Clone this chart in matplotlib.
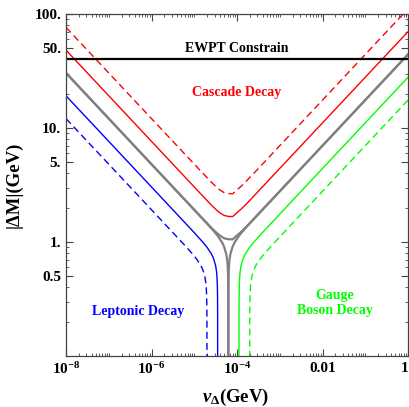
import matplotlib
matplotlib.use("Agg")
import matplotlib.pyplot as plt
from matplotlib.ticker import FixedLocator, NullFormatter

plt.rcParams['font.family'] = ['Liberation Serif', 'DejaVu Serif']
plt.rcParams['font.weight'] = 'bold'
plt.rcParams['axes.labelweight'] = 'bold'
plt.rcParams['mathtext.fontset'] = 'custom'
plt.rcParams['mathtext.rm'] = 'Liberation Serif:bold'
plt.rcParams['mathtext.it'] = 'Liberation Serif:italic:bold'
plt.rcParams['mathtext.bf'] = 'Liberation Serif:bold'

# v_Delta (GeV) and |Delta M| (GeV)
v_top = [1e-8, 1e-6, 1e-5, 1.585e-5, 2.512e-5, 3.162e-5, 3.981e-5, 5.012e-5, 6.31e-5,
         7.943e-5, 1e-4, 1.259e-4, 1.585e-4, 2.512e-4, 3.981e-4, 1e-2, 1.0]
gray_top = [30.4, 4.81, 1.917, 1.595, 1.332, 1.225, 1.137, 1.077, 1.057,
            1.055, 1.141, 1.231, 1.340, 1.604, 1.928, 7.0, 44.2]
red_solid = [48.2, 7.63, 3.04, 2.53, 2.11, 1.94, 1.80, 1.71, 1.675,
             1.672, 1.81, 1.95, 2.12, 2.54, 3.06, 11.09, 70.0]
red_dash = [76.3, 12.09, 4.82, 4.01, 3.35, 3.08, 2.86, 2.71, 2.66,
            2.65, 2.87, 3.09, 3.37, 4.03, 4.84, 17.58, 111.0]

# gray stems
v_gray_l = [1e-8, 1e-6, 1e-5, 1.778e-5, 2.818e-5, 3.548e-5, 4.467e-5, 5.012e-5, 5.623e-5,
            5.888e-5, 6.026e-5, 6.166e-5, 6.237e-5, 6.259e-5, 6.264e-5]
gray_l = [30.4, 4.81, 1.916, 1.521, 1.255, 1.1305, 0.992, 0.905, 0.779,
          0.696, 0.6345, 0.530, 0.4085, 0.2958, 0.1]
v_gray_r = [1.0, 1e-2, 3.925e-4, 2.207e-4, 1.392e-4, 1.106e-4, 8.786e-5, 7.830e-5, 6.978e-5,
            6.665e-5, 6.514e-5, 6.365e-5, 6.293e-5, 6.271e-5, 6.264e-5]
gray_r = [44.2, 7.0, 1.916, 1.521, 1.255, 1.1305, 0.992, 0.905, 0.779,
          0.696, 0.6345, 0.530, 0.4085, 0.2958, 0.1]

# leptonic (blue)
v_blue = [1e-8, 1e-6, 1e-5, 1.585e-5, 1.995e-5, 2.512e-5, 2.818e-5, 3.162e-5, 3.311e-5,
          3.388e-5, 3.467e-5, 3.508e-5, 3.520e-5, 3.523e-5]
blue_solid = [19.16, 3.038, 1.208, 0.997, 0.898, 0.788, 0.719, 0.619, 0.553,
              0.504, 0.421, 0.3245, 0.235, 0.1]
v_blue_d = [1e-8, 1e-6, 5.623e-6, 8.913e-6, 1.122e-5, 1.413e-5, 1.585e-5, 1.778e-5, 1.862e-5,
            1.905e-5, 1.950e-5, 1.972e-5, 1.979e-5, 1.981e-5]
blue_dash = [12.09, 1.917, 0.9595, 0.792, 0.713, 0.626, 0.571, 0.4917, 0.4393,
             0.4003, 0.3344, 0.2578, 0.1867, 0.1]

# gauge boson (green)
v_green = [1.0, 3.925e-3, 3.925e-4, 2.477e-4, 1.967e-4, 1.562e-4, 1.392e-4, 1.241e-4, 1.185e-4,
           1.158e-4, 1.132e-4, 1.119e-4, 1.115e-4, 1.114e-4]
green_solid = [27.86, 3.038, 1.208, 0.997, 0.898, 0.788, 0.719, 0.619, 0.553,
               0.504, 0.421, 0.3245, 0.235, 0.1]
v_green_d = [1.0, 3.925e-3, 6.978e-4, 4.403e-4, 3.498e-4, 2.778e-4, 2.477e-4, 2.207e-4, 2.108e-4,
             2.060e-4, 2.013e-4, 1.990e-4, 1.983e-4, 1.981e-4]
green_dash = [17.58, 1.917, 0.9595, 0.792, 0.713, 0.626, 0.571, 0.4917, 0.4393,
              0.4003, 0.3344, 0.2578, 0.1867, 0.1]

ewpt = 40.0

xticks = [1e-8, 1e-6, 1e-4, 1e-2, 1.0]
xlabels = [r'$10^{-8}$', r'$10^{-6}$', r'$10^{-4}$', '0.01', '1']
yticks = [0.5, 1, 5, 10, 50, 100]
ylabels = ['0.5', '1.', '5.', '10.', '50.', '100.']

fig = plt.figure(figsize=(4.09, 4.07), dpi=100)
ax = fig.add_axes([0.1614, 0.1253, 0.8362, 0.8403])
ax.set_xscale('log')
ax.set_yscale('log')

dash = (0, (5, 3))
ax.plot(v_top, red_dash, color='#ff0000', lw=1.0, ls=dash)
ax.plot(v_top, red_solid, color='#ff0000', lw=1.0)
ax.plot(v_top, gray_top, color='#808080', lw=1.6)
ax.plot(v_gray_l, gray_l, color='#808080', lw=1.6)
ax.plot(v_gray_r, gray_r, color='#808080', lw=1.6)
ax.plot(v_blue, blue_solid, color='#0000ff', lw=1.0)
ax.plot(v_blue_d, blue_dash, color='#0000ff', lw=1.0, ls=dash)
ax.plot(v_green, green_solid, color='#00ff00', lw=1.0)
ax.plot(v_green_d, green_dash, color='#00ff00', lw=1.0, ls=dash)
ax.axhline(ewpt, color='black', lw=1.6)

ax.set_xlim(1e-8, 1)
ax.set_ylim(0.1, 100)

ax.text(1e-4, 50, 'EWPT Constrain', ha='center', va='center', fontsize=10, color='black')
ax.text(1e-4, 20.3, 'Cascade Decay', ha='center', va='center', fontsize=10, color='#ff0000')
ax.text(4.8e-7, 0.248, 'Leptonic Decay', ha='center', va='center', fontsize=10, color='#0000ff')
ax.text(0.0196, 0.29, 'Gauge\nBoson Decay', ha='center', va='center', fontsize=10,
        color='#00ff00', linespacing=1.2)

ax.xaxis.set_major_locator(FixedLocator(xticks))
ax.set_xticklabels(xlabels)
ax.get_xticklabels()[-1].set_horizontalalignment('right')
minor_x = [m * 10.0 ** e for e in range(-8, 0) for m in range(2, 10)] + [1e-7, 1e-5, 1e-3, 1e-1]
ax.xaxis.set_minor_locator(FixedLocator(minor_x))
ax.xaxis.set_minor_formatter(NullFormatter())
ax.yaxis.set_major_locator(FixedLocator(yticks))
ax.set_yticklabels(ylabels)
minor_y = [m * 10.0 ** e for e in range(-1, 2) for m in range(1, 10)]
minor_y = [t for t in minor_y if t not in yticks]
ax.yaxis.set_minor_locator(FixedLocator(minor_y))
ax.yaxis.set_minor_formatter(NullFormatter())

ax.tick_params(which='both', direction='in', top=True, right=True, colors='#444444',
               labelcolor='black', labelsize=11)
ax.tick_params(which='major', length=5, width=0.8)
ax.tick_params(which='minor', length=2.5, width=0.6)
ax.tick_params(axis='x', pad=4)
ax.tick_params(axis='y', pad=3.5)
for s in ax.spines.values():
    s.set_color('#444444')
    s.set_linewidth(0.9)

ax.set_xlabel(r'$v_{\Delta}$(GeV)', fontsize=13.5, fontweight='bold')
ax.set_ylabel('|ΔM|(GeV)', fontsize=13.5, fontweight='bold')
ax.xaxis.set_label_coords(0.497, -0.09)
ax.yaxis.set_label_coords(-0.126, 0.5)

fig.savefig('out.png', dpi=100)
